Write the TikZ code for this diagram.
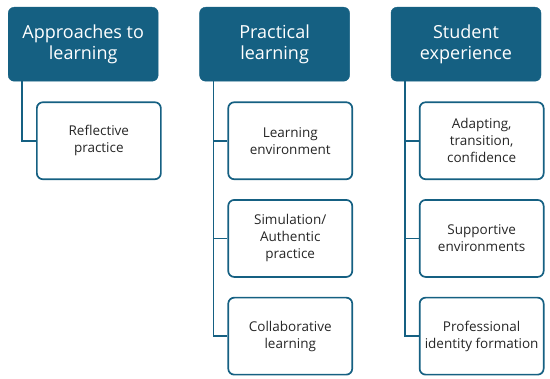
\documentclass[tikz,border=0pt]{standalone}
\usepackage{fontspec}
\setmainfont{Open Sans}
\usepackage{xcolor}
\usetikzlibrary{positioning}
\definecolor{themeblue}{RGB}{21,96,130}

\begin{document}
\begin{tikzpicture}[font=\fontsize{13.5}{17}\selectfont,node distance=19pt,
    head/.style={fill=themeblue,draw=themeblue,rounded corners=6pt,text=white,
      minimum width=150pt,minimum height=74pt,align=center,
      font=\fontsize{18}{21.5}\selectfont},
    item/.style={draw=themeblue,line width=1.7pt,rounded corners=6pt,fill=white,
      text=black!85,minimum width=124pt,minimum height=77pt,align=center},
    link/.style={draw=themeblue,line width=1.8pt}]
    \useasboundingbox (0,0) rectangle (550pt,-379pt);
    \node[head,anchor=north west] (a) at (8pt,-7pt) {Approaches to\\learning};
    \node[head,right=41pt of a] (p) {Practical\\learning};
    \node[head,right=41pt of p] (s) {Student\\experience};
    % first column
    \node[item,below right=20pt and 28pt of a.south west] (a1) {Reflective\\practice};
    % second column
    \node[item,below right=20pt and 28pt of p.south west] (p1) {Learning\\environment};
    \node[item,below=of p1] (p2) {Simulation/\\Authentic\\practice};
    \node[item,below=of p2] (p3) {Collaborative\\learning};
    % third column
    \node[item,below right=20pt and 28pt of s.south west] (s1) {Adapting,\\transition,\\confidence};
    \node[item,below=of s1] (s2) {Supportive\\environments};
    \node[item,below=of s2] (s3) {Professional\\identity formation};
    % connectors
    \draw[link] ([xshift=14pt]a.south west) |- (a1.west);
    \draw[link] ([xshift=14pt]p.south west) |- (p3.west);
    \draw[link] ([xshift=14pt]p.south west) |- (p1.west);
    \draw[link] ([xshift=14pt]p.south west) |- (p2.west);
    \draw[link] ([xshift=14pt]s.south west) |- (s3.west);
    \draw[link] ([xshift=14pt]s.south west) |- (s1.west);
    \draw[link] ([xshift=14pt]s.south west) |- (s2.west);
  \end{tikzpicture}
\end{document}
